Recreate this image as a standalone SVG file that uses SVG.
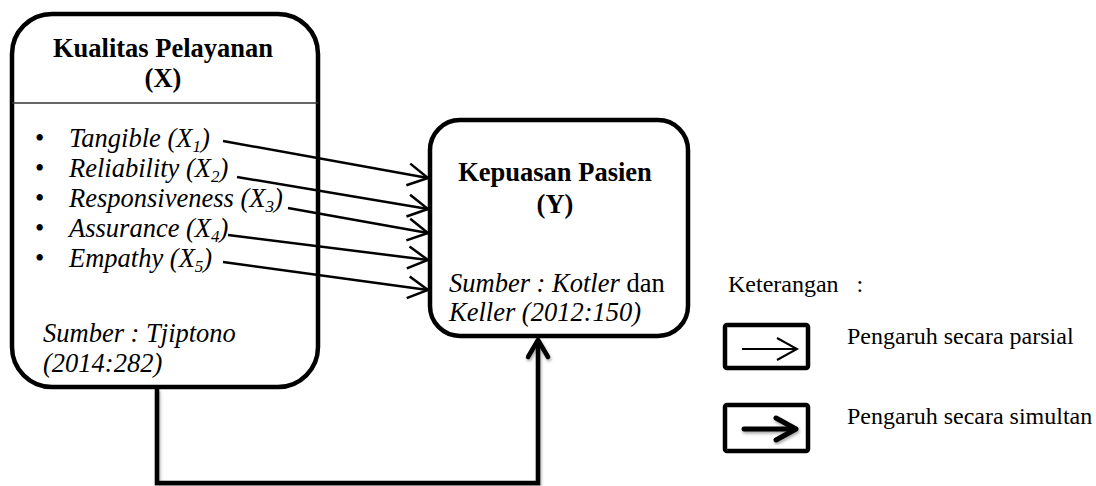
<svg xmlns="http://www.w3.org/2000/svg" width="1096" height="486" viewBox="0 0 1096 486">
  <style>
    .box { fill: #fff; stroke: #000; stroke-width: 4.5; }
    .t { font-family: "Liberation Serif", "Times New Roman", serif; font-size: 26.5px; fill: #000; }
    .b { font-weight: bold; }
    .i { font-style: italic; }
    .lg { font-family: "Liberation Serif", "Times New Roman", serif; font-size: 24px; fill: #000; white-space: pre; }
    .thin { fill: none; stroke: #000; stroke-width: 2.5; }
    .thick { fill: none; stroke: #000; stroke-width: 4.5; }
  </style>
  <defs>
    <marker id="open" viewBox="-24 -14 28 28" refX="0" refY="0" markerWidth="28" markerHeight="28" markerUnits="userSpaceOnUse" orient="auto">
      <path d="M-20,-11 L0,0 L-20,11" fill="none" stroke="#000" stroke-width="2.5"/>
    </marker>
    <marker id="bold" viewBox="-24 -16 30 32" refX="0" refY="0" markerWidth="30" markerHeight="32" markerUnits="userSpaceOnUse" orient="auto">
      <path d="M-17,-10 L0,0 L-17,10" fill="none" stroke="#000" stroke-width="4.5" stroke-linecap="round" stroke-linejoin="round"/>
    </marker>
    <filter id="sh" x="-20%" y="-20%" width="140%" height="140%">
      <feDropShadow dx="1" dy="2" stdDeviation="1.5" flood-color="#000" flood-opacity="0.35"/>
    </filter>
  </defs>

  <g id="node-x">
    <rect class="box" x="12" y="14" width="306" height="373" rx="40" ry="40"/>
    <line x1="12" y1="103" x2="318" y2="103" stroke="#333" stroke-width="1.5"/>
    <text class="t b" x="163" y="57" text-anchor="middle">Kualitas Pelayanan</text>
    <text class="t b" x="163" y="87" text-anchor="middle">(X)</text>
    <g class="t">
      <text x="35" y="147">•</text>
      <text x="35" y="177">•</text>
      <text x="35" y="207">•</text>
      <text x="35" y="237">•</text>
      <text x="35" y="267">•</text>
    </g>
    <text class="t i" x="69" y="147">Tangible (X<tspan font-size="17" dy="5">1</tspan><tspan dy="-5">)</tspan></text>
    <text class="t i" x="69" y="177">Reliability (X<tspan font-size="17" dy="5">2</tspan><tspan dy="-5">)</tspan></text>
    <text class="t i" x="69" y="207">Responsiveness (X<tspan font-size="17" dy="5">3</tspan><tspan dy="-5">)</tspan></text>
    <text class="t i" x="69" y="237">Assurance (X<tspan font-size="17" dy="5">4</tspan><tspan dy="-5">)</tspan></text>
    <text class="t i" x="69" y="267">Empathy (X<tspan font-size="17" dy="5">5</tspan><tspan dy="-5">)</tspan></text>
    <text class="t i" x="43" y="342">Sumber : Tjiptono</text>
    <text class="t i" x="43" y="372">(2014:282)</text>
  </g>

  <g id="node-y">
    <rect class="box" x="430" y="120" width="258" height="216" rx="30" ry="30"/>
    <text class="t b" x="555" y="181" text-anchor="middle">Kepuasan Pasien</text>
    <text class="t b" x="555" y="213" text-anchor="middle">(Y)</text>
    <text class="t" x="449" y="292"><tspan class="i">Sumber : Kotler</tspan> dan</text>
    <text class="t i" x="449" y="321">Keller (2012:150)</text>
  </g>

  <g id="connectors">
    <line class="thin" x1="223" y1="141" x2="428" y2="178" marker-end="url(#open)"/>
    <line class="thin" x1="237" y1="177" x2="428" y2="209" marker-end="url(#open)"/>
    <line class="thin" x1="288" y1="208" x2="428" y2="233" marker-end="url(#open)"/>
    <line class="thin" x1="228" y1="235" x2="428" y2="260" marker-end="url(#open)"/>
    <line class="thin" x1="223" y1="262" x2="428" y2="290" marker-end="url(#open)"/>
    <path class="thick" filter="url(#sh)" d="M157,389 V483 H538 V340" marker-end="url(#bold)"/>
  </g>

  <g id="legend">
    <text class="lg" x="728" y="292" xml:space="preserve">Keterangan   :</text>
    <g id="legend-partial">
      <rect x="725" y="325" width="83" height="43" rx="2" fill="#fff" stroke="#000" stroke-width="4.5"/>
      <line x1="742" y1="349" x2="797" y2="349" stroke="#000" stroke-width="2"/>
      <path d="M777,338 L797,349 L777,360" fill="none" stroke="#000" stroke-width="2"/>
      <text class="lg" x="847" y="344">Pengaruh secara parsial</text>
    </g>
    <g id="legend-simultan">
      <rect x="725" y="405" width="83" height="46" rx="2" fill="#fff" stroke="#000" stroke-width="4.5"/>
      <g filter="url(#sh)">
        <line x1="744" y1="429" x2="795" y2="429" stroke="#000" stroke-width="5" stroke-linecap="round"/>
        <path d="M776,418 L796,429 L776,440" fill="none" stroke="#000" stroke-width="5" stroke-linecap="round" stroke-linejoin="round"/>
      </g>
      <text class="lg" x="847" y="424">Pengaruh secara simultan</text>
    </g>
  </g>
</svg>
